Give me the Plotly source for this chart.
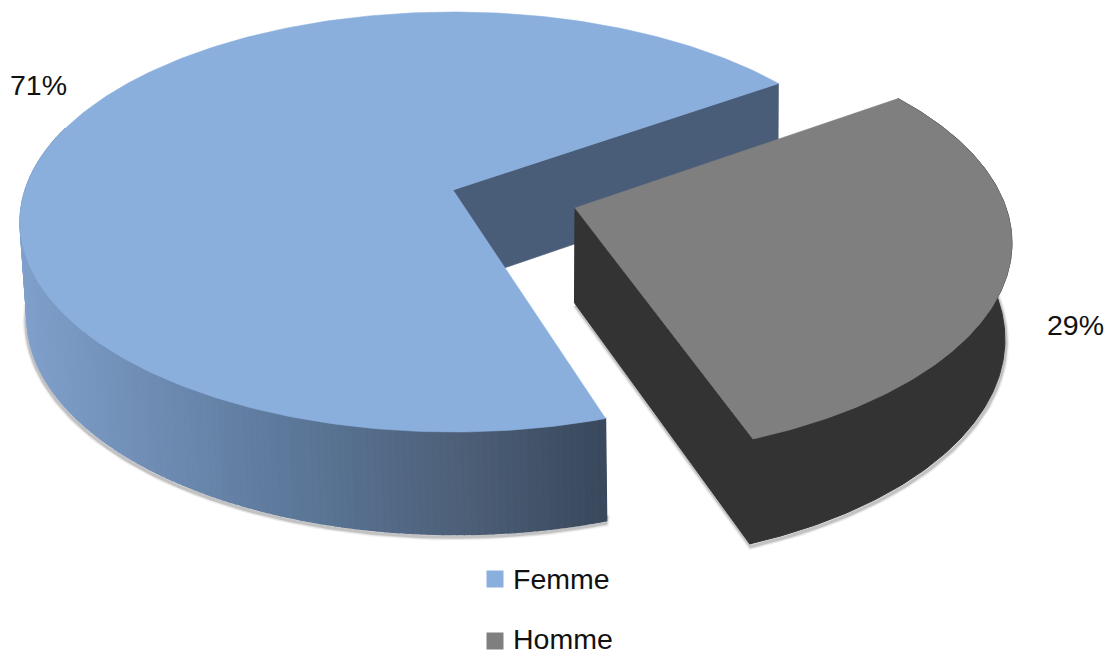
import math
import plotly.graph_objects as go

# --- data ---
categories = ["Femme", "Homme"]
values = [71, 29]

# --- style / geometry (pixel space of the 1112x655 canvas) ---
TOP_COLORS = {"Femme": "#8AAFDD", "Homme": "#7F7F7F"}
INNER_BLUE = "#4A5D78"
DARK_SIDE = "#333333"
GRAD_STOPS = [(20, (128, 160, 203)), (290, (92, 120, 154)), (470, (76, 94, 118)), (606, (57, 72, 92))]

GEOM = {
    "Femme": dict(cx=453, cy=222, a=433, b=210, ax=453, ay=190, d0=91, d1=102, y0=82, y1=413, x0=720, s=0.99,
                  start=34.0, persp=0.9935),
    "Homme": dict(cx=575, cy=243, a=437, b=214.5, ax=575, ay=208, d0=90, d1=105, y0=98, y1=439, x0=540, s=0.985,
                  start=34.6, persp=0.995),
}


def rim(g, deg):
    """Point of the elliptic rim reached by a ray leaving the apex at angle deg (normalised plane)."""
    px = (g["ax"] - g["cx"]) / g["a"]
    py = (g["cy"] - g["ay"]) / g["b"]
    dx, dy = math.cos(math.radians(deg)), math.sin(math.radians(deg))
    bq = px * dx + py * dy
    t = -bq + math.sqrt(bq * bq - (px * px + py * py - 1))
    return g["cx"] + g["a"] * (px + t * dx), g["cy"] - g["b"] * (py + t * dy)


def drop(g, p):
    """Extrude a top-face point to the lower face, with a slight perspective."""
    x, y = p
    d = g["d0"] + (g["d1"] - g["d0"]) * (y - g["y0"]) / (g["y1"] - g["y0"])
    return g["x0"] + (x - g["x0"]) * g["s"], y + d


def arc(g, a0, sweep, n):
    return [rim(g, a0 + sweep * i / n) for i in range(n + 1)]


def grad(x):
    for (x0, c0), (x1, c1) in zip(GRAD_STOPS, GRAD_STOPS[1:]):
        if x <= x1:
            f = max(0, (x - x0) / (x1 - x0))
            return "rgb(%d,%d,%d)" % tuple(round(u + (v - u) * f) for u, v in zip(c0, c1))
    return "rgb(%d,%d,%d)" % GRAD_STOPS[-1][1]


def poly(fig, pts, color, name=None, lw=0.6):
    xs = [p[0] for p in pts] + [pts[0][0]]
    ys = [p[1] for p in pts] + [pts[0][1]]
    fig.add_trace(go.Scatter(x=xs, y=ys, mode="lines", fill="toself", fillcolor=color,
                             line=dict(color=color, width=lw), hoverinfo="skip" if name is None else "name",
                             name=name or "", showlegend=False))


def shadow(fig, pts, dx=1, dy=2.5):
    xs = [p[0] + dx for p in pts]
    ys = [p[1] + dy for p in pts]
    for w, alpha in [(7, 0.06), (5, 0.11), (3, 0.2)]:
        fig.add_trace(go.Scatter(x=xs, y=ys, mode="lines", line=dict(color=f"rgba(70,70,70,{alpha})", width=w),
                                 hoverinfo="skip", showlegend=False))


fig = go.Figure()
total = sum(values)

# Femme: counter-clockwise from the start ray
g = GEOM["Femme"]
apex = (g["ax"], g["ay"])
rim_f = arc(g, g["start"], values[0] / total * 360 * g["persp"], 300)
low_f = [drop(g, p) for p in rim_f]
front = [i for i, p in enumerate(rim_f) if p[1] > 215 and p[0] < 500 or i > 150]
shadow(fig, [low_f[i] for i in front if low_f[i][1] > 300] + [(low_f[-1][0] + 1, low_f[-1][1] - 8)], dx=-1)
poly(fig, [rim_f[i] for i in front] + [low_f[i] for i in front[::-1]], grad(300), lw=0)
for i, j in zip(front, front[1:]):
    poly(fig, [rim_f[i], rim_f[j], low_f[j], low_f[i]], grad((rim_f[i][0] + rim_f[j][0]) / 2), lw=1.3)
poly(fig, [apex, rim_f[0], drop(g, rim_f[0]), drop(g, apex)], INNER_BLUE)
poly(fig, [apex] + rim_f, TOP_COLORS["Femme"], "Femme")

# Homme: clockwise from the start ray
g = GEOM["Homme"]
apex = (g["ax"], g["ay"])
rim_h = arc(g, g["start"], -values[1] / total * 360 * g["persp"], 160)
low_h = [drop(g, p) for p in rim_h]
shadow(fig, [drop(g, apex), low_h[-1]] + [p for p in low_h[::-1] if p[1] > 290], dx=1)
poly(fig, rim_h + low_h[::-1], DARK_SIDE, lw=1)
poly(fig, [apex, rim_h[-1], low_h[-1], drop(g, apex)], DARK_SIDE, lw=1)
poly(fig, [apex] + rim_h, TOP_COLORS["Homme"], "Homme")

# legend keys
legend_y = [579, 639]
fig.add_trace(go.Scatter(x=[495, 495], y=[579, 641], mode="markers", hoverinfo="skip", showlegend=False,
                         marker=dict(symbol="square", size=17, color=[TOP_COLORS[c] for c in categories], line=dict(width=0))))

FONT = "Liberation Sans"
ann = [
    dict(x=512, y=legend_y[0], text=categories[0]),
    dict(x=512, y=legend_y[1] - 0.5, text=categories[1]),
    dict(x=8.5, y=85, text=f"{values[0]}%"),
    dict(x=1046, y=325, text=f"{values[1]}%"),
]
for a in ann:
    fig.add_annotation(xref="x", yref="y", xanchor="left", yanchor="middle", showarrow=False,
                       font=dict(family=FONT, size=28.5, color="#111111"), borderpad=0, **a)

fig.update_layout(width=1112, height=655, margin=dict(l=0, r=0, t=0, b=0), autosize=False,
                  paper_bgcolor="white", plot_bgcolor="white", showlegend=False,
                  xaxis=dict(range=[0, 1112], visible=False, fixedrange=True),
                  yaxis=dict(range=[655, 0], visible=False, fixedrange=True))

fig.write_html("out.html", config={"displayModeBar": False},
               post_script="document.body.style.margin='0';document.body.style.overflow='hidden';")
